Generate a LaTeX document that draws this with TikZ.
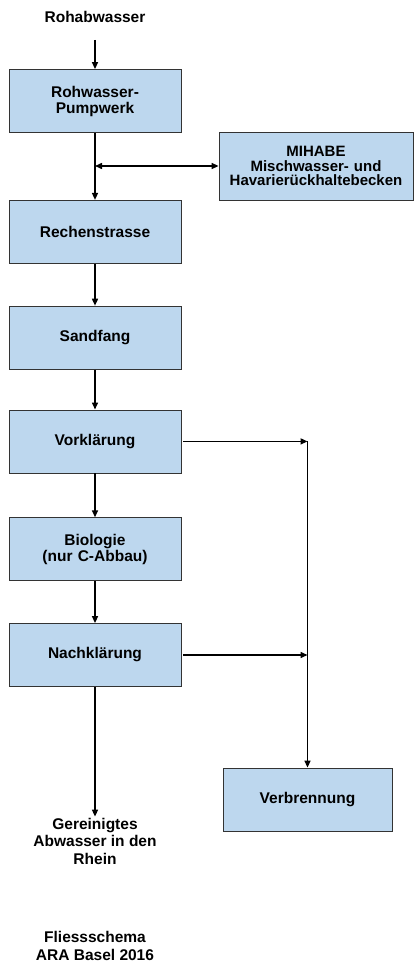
\documentclass[tikz,border=0pt]{standalone}
\usepackage{fontspec}
\setmainfont{Liberation Sans}
\usetikzlibrary{positioning,arrows.meta,calc}
\definecolor{boxblue}{RGB}{189,215,238}

\begin{document}
\begin{tikzpicture}[
  x=1pt, y=1pt,
  box/.style={rectangle, draw=black!80, fill=boxblue, line width=0.8pt, text width=160pt, align=center, font=\fontsize{15.5}{16}\selectfont\bfseries, minimum width=172pt, minimum height=63pt, inner sep=2pt},
  lbl/.style={align=center, font=\fontsize{15.5}{17.5}\selectfont\bfseries, inner sep=1pt},
  arrow/.style={-{Triangle[length=7pt,width=6pt]}, line width=1.5pt},
  dblarrow/.style={{Triangle[length=7pt,width=6pt]}-{Triangle[length=7pt,width=6pt]}, line width=1.5pt}
]
\useasboundingbox (0,0) rectangle (417,-963);

% Input
\node[lbl] (raw) at (95,-17) {Rohabwasser};

% Main line
\node[box] (pump) at (95,-101) {Rohwasser-\\Pumpwerk};
\node[box, below=67pt of pump] (rech) {Rechenstrasse};
\node[box, below=42pt of rech] (sand) {Sandfang};
\node[box, below=40pt of sand] (vork) {Vorklärung};
\node[box, below=44pt of vork] (bio) {Biologie\\(nur C-Abbau)};
\node[box, below=42pt of bio] (nach) {Nachklärung};

% Side boxes
\node[box, text width=190pt, minimum width=194pt, minimum height=68pt, font=\fontsize{15}{14.5}\selectfont\bfseries] (mihabe) at (316,-166) {MIHABE\\Mischwasser- und\\Havarierückhaltebecken};
\node[box, minimum width=169pt] (verb) at (307.5,-799.5) {Verbrennung};

% Output and caption
\node[lbl] (out) at (95,-841) {Gereinigtes\\Abwasser in den\\Rhein};
\node[lbl, font=\fontsize{15.5}{18.5}\selectfont\bfseries] (caption) at (95,-946) {Fliessschema\\ARA Basel 2016};

% Arrows - main line
\draw[arrow, shorten <=16pt] (raw) -- (pump);
\draw[arrow] (pump) -- (rech);
\draw[arrow] (rech) -- (sand);
\draw[arrow] (sand) -- (vork);
\draw[arrow] (vork) -- (bio);
\draw[arrow] (bio) -- (nach);
\draw[arrow] (nach) -- (out);

% Arrows - storage tank
\coordinate (split) at (pump.south |- mihabe.west);
\draw[dblarrow] (split) -- (mihabe.west);

% Arrows - sludge to incineration
\coordinate (vorkj) at (verb.north |- vork.east);
\coordinate (nachj) at (verb.north |- nach.east);
\draw[arrow, shorten <=2pt] (vork.east) -- (vorkj);
\draw[arrow, shorten <=2pt] (nach.east) -- (nachj);
\draw[arrow] (vorkj) -- (verb.north);

\end{tikzpicture}
\end{document}
